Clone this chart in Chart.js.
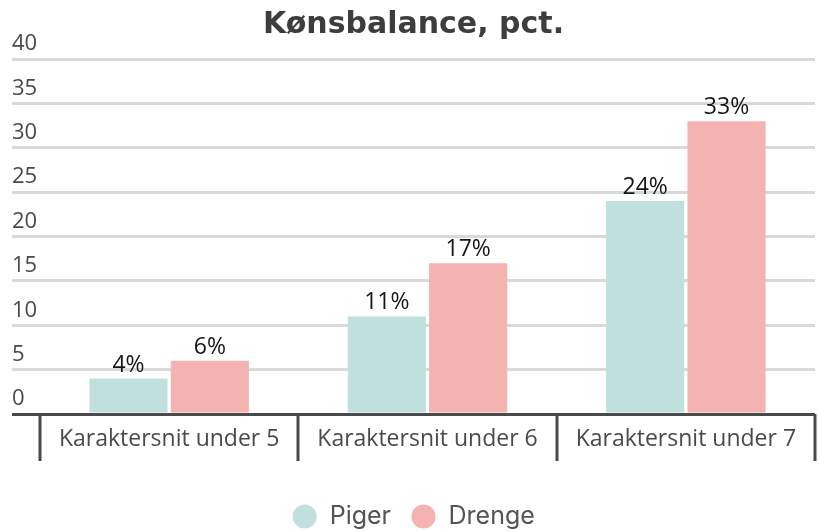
<!DOCTYPE html>
<html>
<head>
  <meta charset="utf-8">
  <title>Kønsbalance, pct.</title>
  <script src="https://cdn.jsdelivr.net/npm/chart.js"></script>
  <style>
    html, body { margin: 0; padding: 0; background: #fff; }
    #wrap { width: 819px; height: 531px; }
  </style>
</head>
<body>
  <div id="wrap"><canvas id="chart"></canvas></div>
  <script>
    // Data
    const categories = ['Karaktersnit under 5', 'Karaktersnit under 6', 'Karaktersnit under 7'];
    const seriesNames = ['Piger', 'Drenge'];
    const piger = [4, 11, 24];
    const drenge = [6, 17, 33];
    const yTicks = [0, 5, 10, 15, 20, 25, 30, 35, 40];

    const colors = ['#c0e0dd', '#f2b3b1'];
    const axisDark = '#4a4a4a';

    // Value labels above each bar
    const barLabels = {
      id: 'barLabels',
      afterDatasetsDraw(chart) {
        const ctx = chart.ctx;
        ctx.save();
        ctx.font = '23px "Open Sans"';
        ctx.fillStyle = '#151515';
        ctx.textAlign = 'center';
        ctx.textBaseline = 'alphabetic';
        chart.data.datasets.forEach((ds, i) => {
          chart.getDatasetMeta(i).data.forEach((bar, j) => {
            ctx.fillText(ds.data[j] + '%', bar.x, bar.y - 7);
          });
        });
        ctx.restore();
      }
    };

    // Dark divider lines between the categories, below the axis
    const categoryDividers = {
      id: 'categoryDividers',
      afterDraw(chart) {
        const x = chart.scales.x;
        const ctx = chart.ctx;
        ctx.save();
        ctx.strokeStyle = axisDark;
        ctx.lineWidth = 3;
        ctx.beginPath();
        for (let i = 0; i <= categories.length; i++) {
          const px = Math.round(x.getPixelForValue(i - 0.5));
          ctx.moveTo(px, x.top);
          ctx.lineTo(px, x.top + 47);
        }
        ctx.stroke();
        ctx.restore();
      }
    };

    new Chart(document.getElementById('chart'), {
      type: 'bar',
      data: {
        labels: categories,
        datasets: [
          { label: seriesNames[0], data: piger, backgroundColor: colors[0] },
          { label: seriesNames[1], data: drenge, backgroundColor: colors[1] }
        ]
      },
      options: {
        responsive: true,
        maintainAspectRatio: false,
        animation: false,
        layout: { padding: { left: 12, right: 4, top: 6, bottom: -8 } },
        datasets: {
          bar: { categoryPercentage: 0.63, barPercentage: 0.96 }
        },
        scales: {
          x: {
            afterFit(axis) {
              axis.height = 70;
            },
            border: { display: false },
            grid: { display: false },
            ticks: {
              padding: 4,
              maxRotation: 0,
              autoSkip: false,
              color: axisDark,
              font: { family: '"Open Sans"', size: 23 }
            }
          },
          y: {
            min: 0,
            max: 40,
            afterBuildTicks(axis) {
              axis.ticks = yTicks.map(v => ({ value: v }));
            },
            afterFit(axis) {
              axis.width = 28;
            },
            border: { display: false },
            grid: {
              tickLength: 28,
              lineWidth: 3,
              color: ctx => ctx.tick && ctx.tick.value === 0 ? axisDark : '#d9d9d9'
            },
            ticks: {
              crossAlign: 'far',
              labelOffset: -15,
              padding: 0,
              color: axisDark,
              font: { family: '"Open Sans"', size: 22 }
            }
          }
        },
        plugins: {
          title: {
            display: true,
            text: 'Kønsbalance, pct.',
            color: '#3d3d3d',
            font: { family: '"DejaVu Sans"', size: 30, weight: 'bold' },
            padding: { top: 1, bottom: 16 }
          },
          legend: {
            position: 'bottom',
            labels: {
              usePointStyle: true,
              pointStyle: 'circle',
              boxHeight: 17,
              padding: 20,
              color: '#555555',
              font: { family: 'Inter', size: 25 }
            }
          },
          tooltip: { enabled: false }
        }
      },
      plugins: [barLabels, categoryDividers]
    });
  </script>
</body>
</html>
